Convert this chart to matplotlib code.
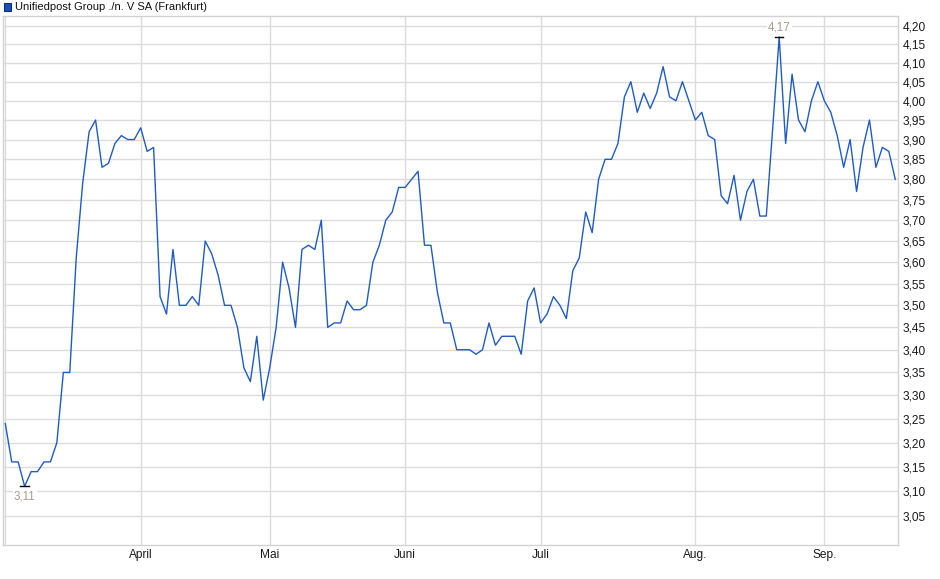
import numpy as np
import matplotlib
matplotlib.use("Agg")
import matplotlib.pyplot as plt
import matplotlib.patches as patches
from matplotlib.ticker import FuncFormatter, NullLocator

plt.rcParams['font.family'] = ['Liberation Sans', 'DejaVu Sans']

title = "Unifiedpost Group ./n. V SA (Frankfurt)"

# daily closing prices, one value per trading day
prices = [
    3.24, 3.16, 3.16, 3.11, 3.14, 3.14, 3.16, 3.16, 3.20, 3.35,
    3.35, 3.61, 3.79, 3.92, 3.95, 3.83, 3.84, 3.89, 3.91, 3.90,
    3.90, 3.93, 3.87, 3.88, 3.52, 3.48, 3.63, 3.50, 3.50, 3.52,
    3.50, 3.65, 3.62, 3.57, 3.50, 3.50, 3.45, 3.36, 3.33, 3.43,
    3.29, 3.36, 3.45, 3.60, 3.54, 3.45, 3.63, 3.64, 3.63, 3.70,
    3.45, 3.46, 3.46, 3.51, 3.49, 3.49, 3.50, 3.60, 3.64, 3.70,
    3.72, 3.78, 3.78, 3.80, 3.82, 3.64, 3.64, 3.53, 3.46, 3.46,
    3.40, 3.40, 3.40, 3.39, 3.40, 3.46, 3.41, 3.43, 3.43, 3.43,
    3.39, 3.51, 3.54, 3.46, 3.48, 3.52, 3.50, 3.47, 3.58, 3.61,
    3.72, 3.67, 3.80, 3.85, 3.85, 3.89, 4.01, 4.05, 3.97, 4.02,
    3.98, 4.02, 4.09, 4.01, 4.00, 4.05, 4.00, 3.95, 3.97, 3.91,
    3.90, 3.76, 3.74, 3.81, 3.70, 3.77, 3.80, 3.71, 3.71, 3.93,
    4.17, 3.89, 4.07, 3.95, 3.92, 4.00, 4.05, 4.00, 3.97, 3.91,
    3.83, 3.90, 3.77, 3.88, 3.95, 3.83, 3.88, 3.87, 3.80,
]

# first trading day of each month (index into prices)
month_labels = ["April", "Mai", "Juni", "Juli", "Aug.", "Sep."]
month_starts = [21, 41, 62, 83, 107, 127]

y_ticks = [round(3.05 + 0.05 * i, 2) for i in range(24)]

line_color = '#1f5bc6'
grid_color = '#dcdcdc'
note_color = '#a89c8c'

fig = plt.figure(figsize=(9.4, 5.79), dpi=100)
ax = fig.add_axes([2.7 / 940, 1 - 545.3 / 579, 895.6 / 940, 529.3 / 579])

x = np.arange(len(prices))
ax.plot(x, prices, color=line_color, lw=1.0, zorder=3)

ax.set_yscale('log')
ax.set_ylim(2.9926, 4.2275)
ax.set_xlim(-0.4, len(prices) - 0.53)

ax.yaxis.set_major_locator(plt.FixedLocator(y_ticks))
ax.yaxis.set_minor_locator(NullLocator())
ax.yaxis.set_major_formatter(FuncFormatter(lambda v, p: f"{v:.2f}".replace('.', ',')))
ax.yaxis.tick_right()

ax.set_xticks(month_starts)
ax.set_xticklabels(month_labels)

ax.tick_params(axis='y', length=0, pad=3.4, labelsize=8.6, colors='#1a1a1a')
ax.tick_params(axis='x', length=0, pad=2.6, labelsize=8.6, colors='#1a1a1a')

ax.grid(True, color=grid_color, lw=1.0, zorder=0)
ax.axvline(0, color=grid_color, lw=1.0, zorder=0)
for s in ax.spines.values():
    s.set_color('#d2d2d2')
    s.set_linewidth(1.0)

# min / max markers
arr = np.array(prices)
imin, imax = int(arr.argmin()), int(arr.argmax())
for i, off in ((imin, -10), (imax, 9)):
    v = prices[i]
    ax.plot([i - 0.65, i + 0.65], [v, v], color='black', lw=1.0, zorder=4)
    ax.annotate(f"{v:.2f}".replace('.', ','), xy=(i, v), xytext=(0, off),
                textcoords='offset pixels', ha='center', va='center',
                fontsize=8.4, color=note_color, zorder=5,
                bbox=dict(boxstyle='square,pad=0.1', fc='white', ec='none'))

# legend-like title in the top left
fig.patches.append(patches.Rectangle((3.5 / 940, 1 - 10.5 / 579), 7.5 / 940, 7.5 / 579,
                                     transform=fig.transFigure, facecolor='#1a4fb8',
                                     edgecolor='#0d2f80', lw=0.8))
fig.text(15 / 940, 1 - 7 / 579, title, ha='left', va='center', fontsize=8, color='#111111')

fig.savefig("out.png", dpi=100)
